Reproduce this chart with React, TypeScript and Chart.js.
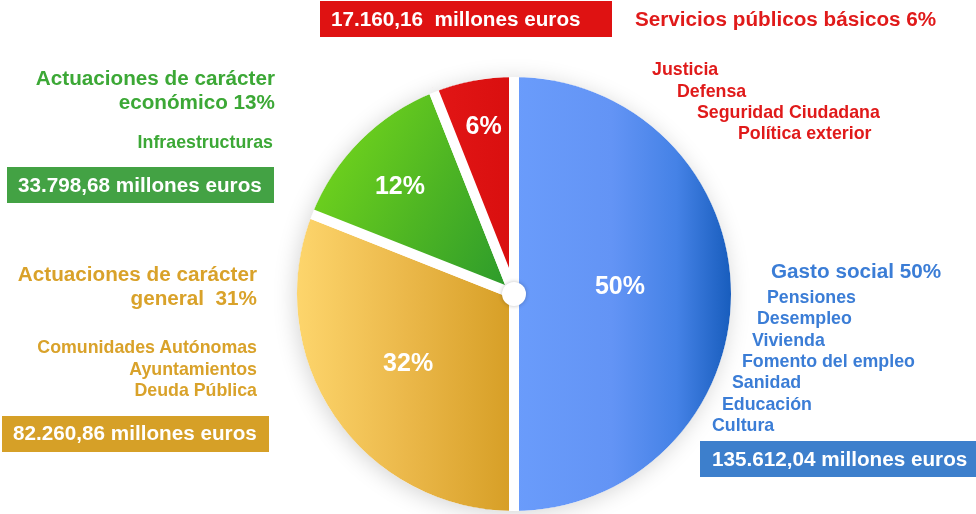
import React, { useEffect, useRef } from "react";
import { Chart, registerables } from "chart.js";

Chart.register(...registerables);

// ---------- data ----------
const categories = [
  "Gasto social",
  "Actuaciones de carácter general",
  "Actuaciones de carácter económico",
  "Servicios públicos básicos",
];
const shares = [50, 31, 13, 6];
const sliceLabels = ["50%", "32%", "12%", "6%"];
const amountLabels = [
  "135.612,04 millones euros",
  "82.260,86 millones euros",
  "33.798,68 millones euros",
  "17.160,16  millones euros",
];
const socialTitle = ["Gasto social 50%"];
const socialItems = ["Pensiones", "Desempleo", "Vivienda", "Fomento del empleo", "Sanidad", "Educación", "Cultura"];
const generalTitle = ["Actuaciones de carácter", "general  31%"];
const generalItems = ["Comunidades Autónomas", "Ayuntamientos", "Deuda Pública"];
const economicTitle = ["Actuaciones de carácter", "económico 13%"];
const economicItems = ["Infraestructuras"];
const basicTitle = ["Servicios públicos básicos 6%"];
const basicItems = ["Justicia", "Defensa", "Seguridad Ciudadana", "Política exterior"];

// ---------- style / layout ----------
const W = 976;
const H = 514;
const CX = 514;
const CY = 294;
const R = 217; // visible radius
const BORDER = 10;
const FONT = "'Liberation Sans', Arial, sans-serif";
const TITLE = 20.7;
const ITEM = 17.8;
const LABEL_POS = [0.49, 0.58, 0.727, 0.79];
const LABEL_SHIFT = [-5, 1.5, -1.3, 0.6];
const SOLID = ["#6596f5", "#e8b545", "#4cb422", "#de1111"];
const C_RED = "#e01a1a";
const C_GREEN = "#3ca836";
const C_YELLOW = "#d9a22a";
const C_BLUE = "#3b7dd6";

function makeFill(chart: any, i: number) {
  const a = chart.chartArea;
  if (!a) return SOLID[i];
  const ctx = chart.ctx as CanvasRenderingContext2D;
  const cx = (a.left + a.right) / 2;
  const cy = (a.top + a.bottom) / 2;
  let g: CanvasGradient;
  if (i === 0) {
    g = ctx.createLinearGradient(cx, 0, cx + R, 0);
    g.addColorStop(0, "#6a9cfb");
    g.addColorStop(0.45, "#6394f5");
    g.addColorStop(0.75, "#4582e6");
    g.addColorStop(1, "#185dbd");
  } else if (i === 1) {
    g = ctx.createLinearGradient(cx - R, 0, cx, 0);
    g.addColorStop(0, "#fdd56c");
    g.addColorStop(0.5, "#ebb84a");
    g.addColorStop(1, "#d69e25");
  } else if (i === 2) {
    g = ctx.createLinearGradient(cx - R, cy - R * 0.55, cx, cy);
    g.addColorStop(0, "#74d61c");
    g.addColorStop(0.5, "#4fb623");
    g.addColorStop(1, "#2a992c");
  } else {
    g = ctx.createLinearGradient(cx - R * 0.4, 0, cx, 0);
    g.addColorStop(0, "#e31616");
    g.addColorStop(1, "#d90f0f");
  }
  return g;
}

const piePlugin = {
  id: "pieDecor",
  afterDatasetsDraw(chart: any) {
    const ctx = chart.ctx as CanvasRenderingContext2D;
    const meta = chart.getDatasetMeta(0);
    const a0 = meta.data[0];
    const cx = a0.x;
    const cy = a0.y;

    // soft shadow just outside the pie
    ctx.save();
    ctx.beginPath();
    ctx.rect(0, 0, W, H);
    ctx.arc(cx, cy, R, 0, Math.PI * 2, true);
    ctx.clip();
    ctx.shadowColor = "rgba(0,0,0,0.17)";
    ctx.shadowBlur = 22;
    ctx.shadowOffsetX = -2;
    ctx.shadowOffsetY = 3;
    ctx.fillStyle = "#ffffff";
    ctx.beginPath();
    ctx.arc(cx, cy, R, 0, Math.PI * 2);
    ctx.fill();
    ctx.restore();

    ctx.save();
    ctx.fillStyle = "#ffffff";
    ctx.font = `bold 25px ${FONT}`;
    ctx.textAlign = "center";
    ctx.textBaseline = "alphabetic";
    meta.data.forEach((arc: any, i: number) => {
      const p = arc.getProps(["x", "y", "startAngle", "endAngle", "outerRadius"], true);
      const mid = (p.startAngle + p.endAngle) / 2 + (LABEL_SHIFT[i] * Math.PI) / 180;
      const r = (p.outerRadius - BORDER / 2) * LABEL_POS[i];
      ctx.fillText(sliceLabels[i], p.x + Math.cos(mid) * r, p.y + Math.sin(mid) * r + 9);
    });
    ctx.shadowColor = "rgba(0,0,0,0.25)";
    ctx.shadowBlur = 4;
    ctx.beginPath();
    ctx.arc(cx, cy, 12, 0, Math.PI * 2);
    ctx.fill();
    ctx.restore();
  },
};

type TxtProps = { x: number; base: number; size: number; color: string; align?: "left" | "right"; text: string };
function Txt({ x, base, size, color, align = "left", text }: TxtProps) {
  const style: React.CSSProperties = {
    position: "absolute",
    top: base - 0.8465 * size,
    fontFamily: FONT,
    fontWeight: "bold",
    fontSize: size,
    lineHeight: `${size}px`,
    color,
    whiteSpace: "pre",
  };
  if (align === "left") style.left = x;
  else style.right = W - x;
  return <div style={style}>{text}</div>;
}

function Box({ x, y, w, h, color }: { x: number; y: number; w: number; h: number; color: string }) {
  return <div style={{ position: "absolute", left: x, top: y, width: w, height: h, background: color }} />;
}

export default function App() {
  const ref = useRef<HTMLCanvasElement>(null);
  useEffect(() => {
    if (!ref.current) return;
    const chart = new Chart(ref.current, {
      type: "pie",
      data: {
        labels: categories,
        datasets: [
          {
            data: shares,
            backgroundColor: (c: any) => makeFill(c.chart, c.dataIndex),
            borderColor: "#ffffff",
            borderWidth: BORDER,
            radius: R + BORDER / 2,
          } as any,
        ],
      },
      options: {
        responsive: false,
        animation: false,
        layout: { padding: { left: 2 * CX - W, right: 0, top: 2 * CY - H, bottom: 0 } },
        plugins: { legend: { display: false }, tooltip: { enabled: false } },
      },
      plugins: [piePlugin],
    });
    return () => chart.destroy();
  }, []);

  const socialX = [767, 757, 752, 742, 732, 722, 712];
  const socialBase = [304, 325, 347, 368, 389, 411, 432];
  const basicX = [652, 677, 697, 738];
  const basicBase = [76, 98, 119, 140];
  const generalBase = [354, 376, 397];

  return (
    <div style={{ position: "fixed", left: 0, top: 0, width: W, height: H, background: "#fff", overflow: "hidden" }}>
      <canvas ref={ref} width={W} height={H} style={{ position: "absolute", left: 0, top: 0 }} />

      {/* Servicios públicos básicos */}
      <Box x={320} y={1} w={292} h={36} color="#df1212" />
      <Txt x={331} base={27} size={TITLE} color="#ffffff" text={amountLabels[3]} />
      <Txt x={635} base={27} size={TITLE} color={C_RED} text={basicTitle[0]} />
      {basicItems.map((t, i) => (
        <Txt key={t} x={basicX[i]} base={basicBase[i]} size={ITEM} color={C_RED} text={t} />
      ))}

      {/* Actuaciones de carácter económico */}
      {economicTitle.map((t, i) => (
        <Txt key={t} x={275} base={86 + i * 24} size={TITLE} color={C_GREEN} align="right" text={t} />
      ))}
      {economicItems.map((t) => (
        <Txt key={t} x={273} base={149} size={ITEM} color={C_GREEN} align="right" text={t} />
      ))}
      <Box x={7} y={167} w={267} h={36} color="#43a244" />
      <Txt x={18} base={193} size={TITLE} color="#ffffff" text={amountLabels[2]} />

      {/* Actuaciones de carácter general */}
      {generalTitle.map((t, i) => (
        <Txt key={t} x={257} base={282 + i * 24} size={TITLE} color={C_YELLOW} align="right" text={t} />
      ))}
      {generalItems.map((t, i) => (
        <Txt key={t} x={257} base={generalBase[i]} size={ITEM} color={C_YELLOW} align="right" text={t} />
      ))}
      <Box x={2} y={416} w={267} h={36} color="#d6a027" />
      <Txt x={13} base={441} size={TITLE} color="#ffffff" text={amountLabels[1]} />

      {/* Gasto social */}
      <Txt x={771} base={279} size={TITLE} color={C_BLUE} text={socialTitle[0]} />
      {socialItems.map((t, i) => (
        <Txt key={t} x={socialX[i]} base={socialBase[i]} size={ITEM} color={C_BLUE} text={t} />
      ))}
      <Box x={700} y={441} w={276} h={36} color="#3d7fcc" />
      <Txt x={712} base={467} size={TITLE} color="#ffffff" text={amountLabels[0]} />
    </div>
  );
}
